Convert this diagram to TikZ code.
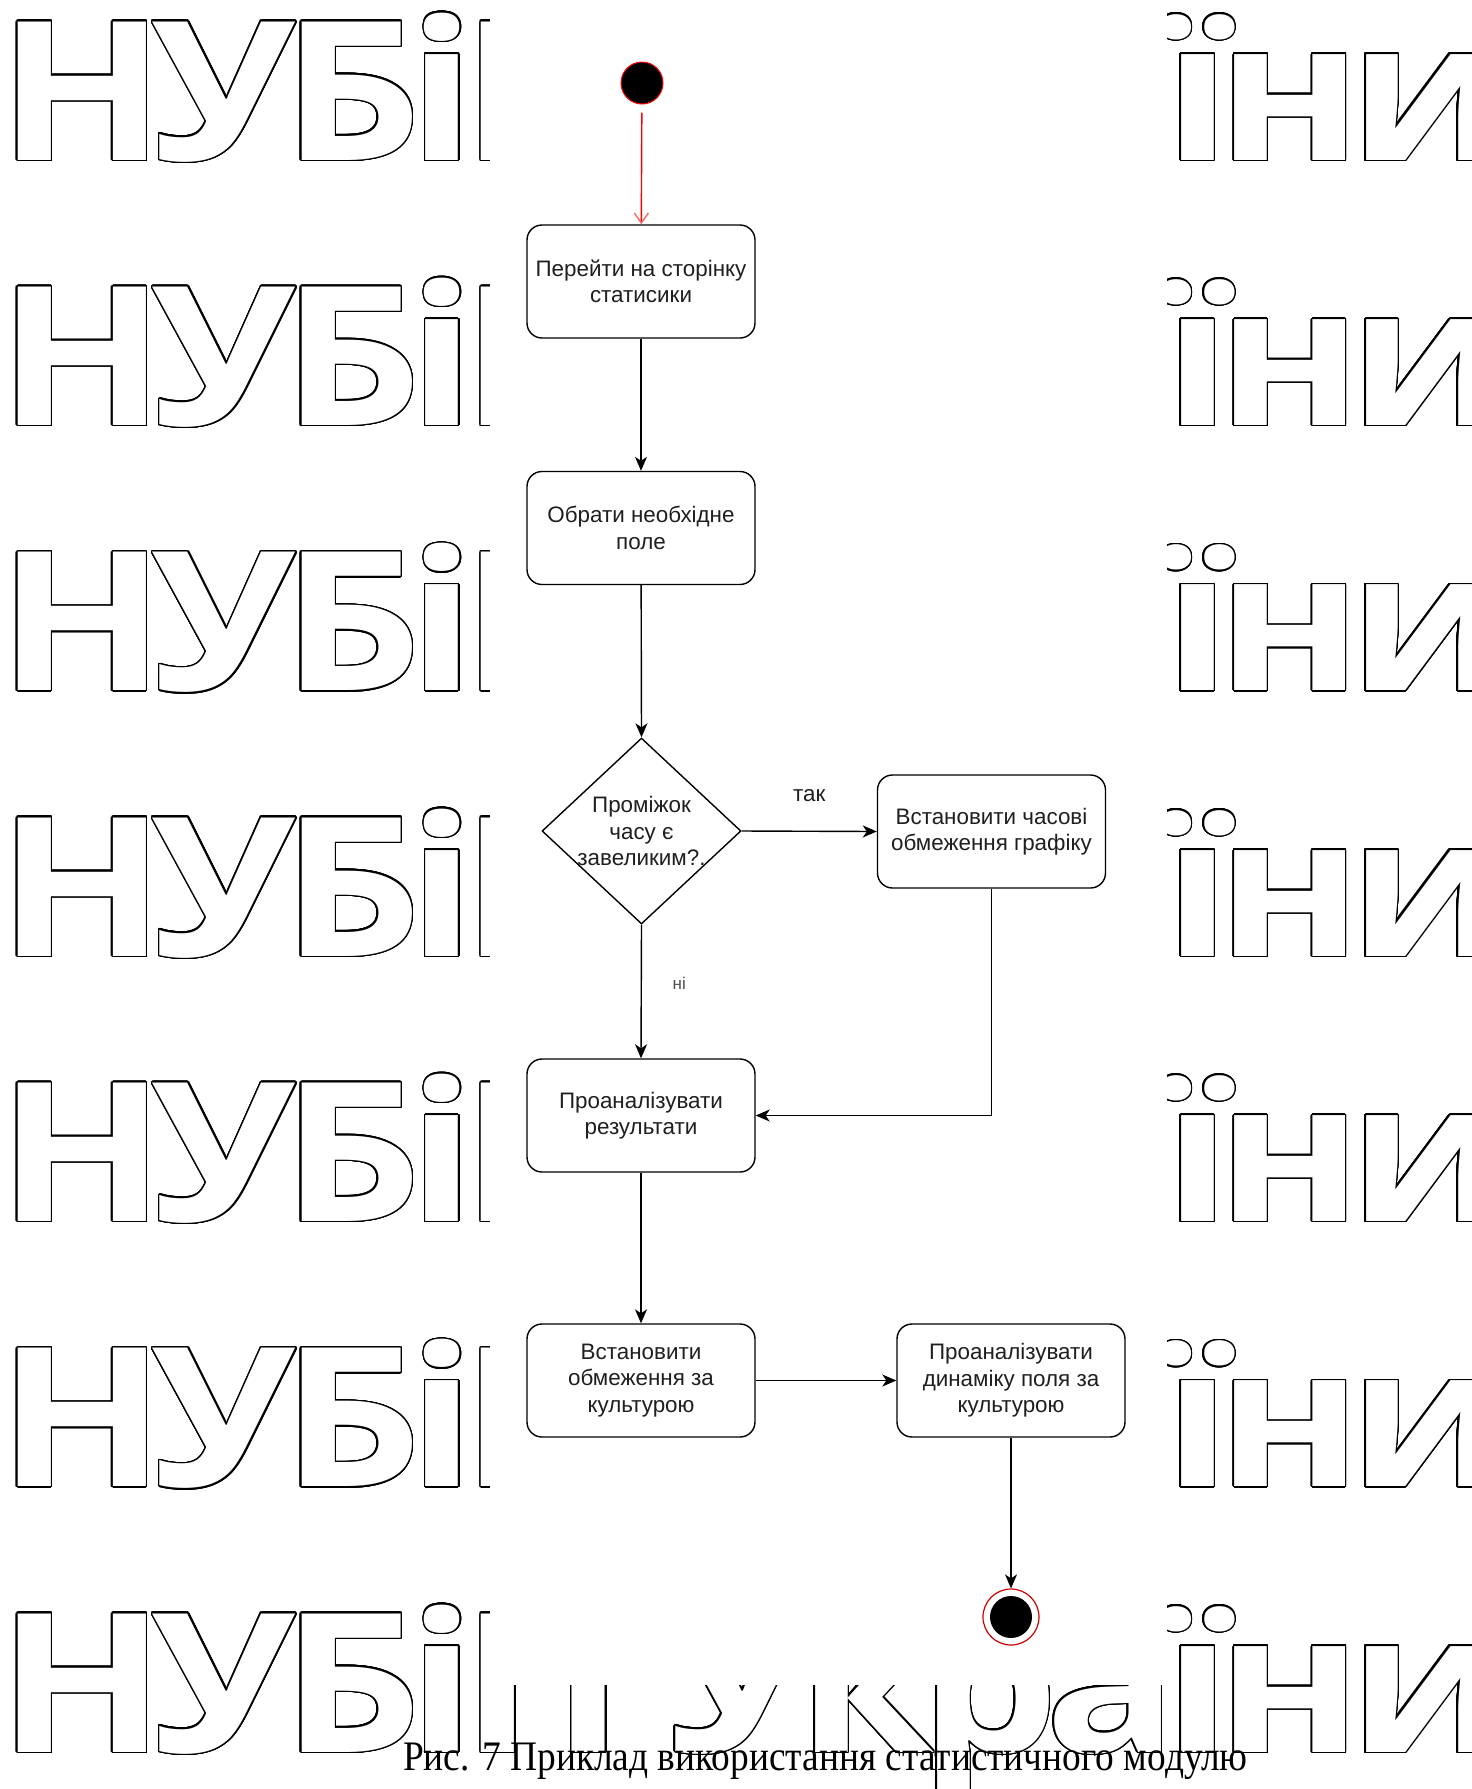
\documentclass[tikz,border=0pt]{standalone}
\usepackage{fontspec}
\usepackage{contour}
\setmainfont{Liberation Sans}
\newfontfamily\wmfont[FakeStretch=1.13,LetterSpace=-7]{Open Sans}
\newfontfamily\capfont[FakeStretch=0.89]{Liberation Serif}
\usetikzlibrary{arrows.meta,shapes.geometric}
\contourlength{0.75pt}

\begin{document}
\begin{tikzpicture}[x=0.5pt,y=-0.5pt,
  wm/.style={inner sep=0pt, anchor=base west,
    font=\wmfont\bfseries\fontsize{97}{97}\selectfont},
  actbox/.style={draw=black, line width=0.7pt, rounded corners=7.5pt,
    minimum width=114pt, minimum height=56.5pt, inner sep=0pt,
    align=center, text=black!88,
    font=\fontsize{11.2}{13.2}\selectfont},
  decbox/.style={diamond, draw=black, line width=0.7pt,
    minimum width=99.5pt, minimum height=93pt, inner sep=0pt},
  dectext/.style={align=center, text=black!88, inner sep=0pt,
    font=\fontsize{11.2}{13.2}\selectfont},
  flow/.style={draw=black, line width=0.7pt,
    -{Stealth[length=7pt,width=6pt,inset=2pt]}},
  startflow/.style={draw=red, line width=0.7pt,
    -{Straight Barb[length=5pt,width=7pt,color=red!60]}},
  lbl/.style={inner sep=0pt, text=black!88,
    font=\fontsize{11.2}{13.2}\selectfont},
  smalllbl/.style={inner sep=0pt, text=black!70,
    font=\fontsize{8.5}{10}\selectfont}
]
\useasboundingbox (0,0) rectangle (1472,1789);
\fill[white] (0,0) rectangle (1472,1789);

% outlined watermark rows
\foreach \k in {0,...,6}
  \node[wm] (wm\k) at (-2,{160+265.33*\k})
    {\contour[24]{black}{\textcolor{white}{НУБіП України}}};

% white backdrop of the activity diagram
\fill[white] (490,0) rectangle (1167,1685);

% initial and final states
\node[circle, fill=black, draw=red, line width=0.5pt, minimum size=21pt,
  inner sep=0pt] (start) at (642,83) {};
\node[circle, draw=red!80!black, line width=0.6pt, minimum size=28pt,
  inner sep=0pt] (stop) at (1011,1617) {};
\fill[black] (stop.center) circle (10.5pt);

% actions
\node[actbox] (page) at (641,281.5) {Перейти на сторінку\\статисики};
\node[actbox] (field) at (641,528) {Обрати необхідне\\поле};
\node[decbox] (dec) at (641.5,831) {};
\node[dectext] (dectxt) at (dec.center) {Проміжок\\часу є\\завеликим?.};
\node[actbox] (limit) at (991.5,831.5) {Встановити часові\\обмеження графіку};
\node[actbox] (analyse) at (641,1115.5) {Проаналізувати\\результати};
\node[actbox] (crop) at (641,1380.5) {Встановити\\обмеження за\\культурою};
\node[actbox] (dyn) at (1011,1380.5) {Проаналізувати\\динаміку поля за\\культурою};

% transitions
\draw[startflow, shorten <=4pt] (start) -- (page);
\draw[flow] (page) -- (field);
\draw[flow] (field) -- (dec.north);
\draw[flow] (dec.east) -- node[lbl, midway, yshift=18pt] {так} (limit.west);
\draw[flow] (dec.south) -- node[smalllbl, midway, xshift=19pt, yshift=4pt] {ні} (analyse.north);
\draw[flow] (limit.south) |- (analyse.east);
\draw[flow] (analyse) -- (crop);
\draw[flow] (crop) -- (dyn);
\draw[flow] (dyn.south) -- (stop.north);

% caption
\node[inner sep=0pt, anchor=base, font=\capfont\fontsize{21}{24}\selectfont]
  (caption) at (825.5,1770) {Рис. 7 Приклад використання статистичного модулю};
\end{tikzpicture}
\end{document}
